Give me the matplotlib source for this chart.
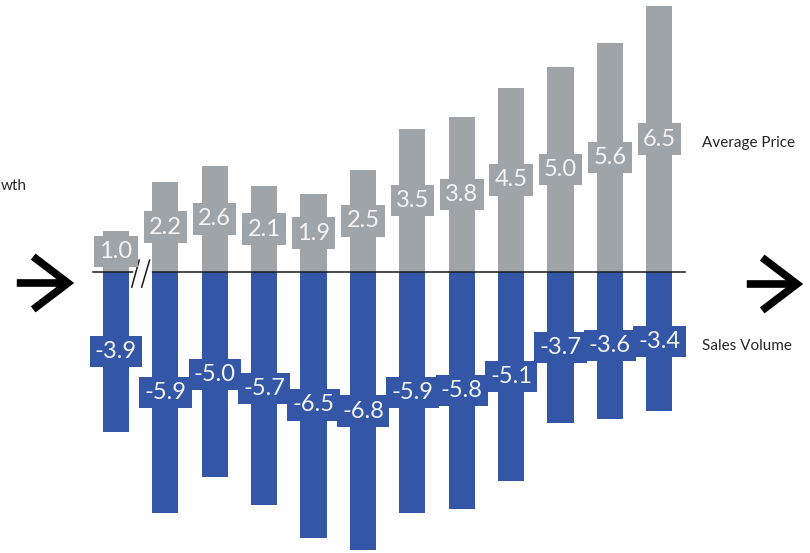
import matplotlib.pyplot as plt
import numpy as np

plt.rcParams['font.family'] = ['Lato', 'DejaVu Sans']

# Valores
avg_price = [1.0, 2.2, 2.6, 2.1, 1.9, 2.5, 3.5, 3.8, 4.5, 5.0, 5.6, 6.5]
sales_volume = [-3.9, -5.9, -5.0, -5.7, -6.5, -6.8, -5.9, -5.8, -5.1, -3.7, -3.6, -3.4]
series_names = ['Average Price', 'Sales Volume']

gris = '#9FA4A9'
azul = '#3356A6'
texto_caja = '#F4F4F4'

fig = plt.figure(figsize=(8.1, 5.53), dpi=100)
ax = fig.add_axes([0, 0, 1, 1])

x = np.arange(len(avg_price))
ax.bar(x, avg_price, width=0.53, color=gris, zorder=2)
ax.bar(x, sales_volume, width=0.53, color=azul, zorder=2)

# etiquetas en mitad de cada barra
for xi, v in zip(x, avg_price):
    ax.text(xi, v / 2, f'{v:.1f}', ha='center', va='center', fontsize=17, color=texto_caja, zorder=4,
            bbox=dict(boxstyle='square,pad=0.22', fc=gris, ec='none'))
for xi, v in zip(x, sales_volume):
    ax.text(xi, v / 2, f'{v:.1f}', ha='center', va='center', fontsize=17, color=texto_caja, zorder=4,
            bbox=dict(boxstyle='square,pad=0.22', fc=azul, ec='none'))

# nombres de las series junto a la ultima barra
ax.text(x[-1] + 0.86, avg_price[-1] / 2 - 0.1, series_names[0], ha='left', va='center', fontsize=11, color='#262626')
ax.text(x[-1] + 0.86, sales_volume[-1] / 2 - 0.12, series_names[1], ha='left', va='center', fontsize=11, color='#262626')

# linea base
ax.plot([-0.47, x[-1] + 0.52], [0, 0], color='#1A1A1A', lw=1.1, zorder=3)

# marca de corte //
ax.plot([0.40, 0.66], [0, 0], color='white', lw=4, zorder=3)
ax.plot([0.32, 0.47], [-0.37, 0.29], color='#1A1A1A', lw=1.1, zorder=3)
ax.plot([0.52, 0.68], [-0.37, 0.29], color='#1A1A1A', lw=1.1, zorder=3)

# texto cortado en el borde izquierdo del original
ax.text(0.5 / 810, 1 - 186 / 553, 'wth', transform=ax.transAxes, ha='left', va='center', fontsize=11, color='#262626')

# flechas a los lados
flecha = dict(arrowstyle='->,head_length=1.25,head_width=0.95', lw=5.5, color='black',
              mutation_scale=20, joinstyle='miter', capstyle='butt')
ax.annotate('', xy=(77 / 810, 1 - 283 / 553), xytext=(14 / 810, 1 - 283 / 553),
            xycoords='axes fraction', textcoords='axes fraction', arrowprops=flecha)
ax.annotate('', xy=(806 / 810, 1 - 284 / 553), xytext=(744 / 810, 1 - 284 / 553),
            xycoords='axes fraction', textcoords='axes fraction', arrowprops=flecha)

ax.set_xlim(-2.348, 14.05)
ax.set_ylim(-6.87, 6.65)
ax.axis('off')

fig.savefig('out.png', dpi=100)
